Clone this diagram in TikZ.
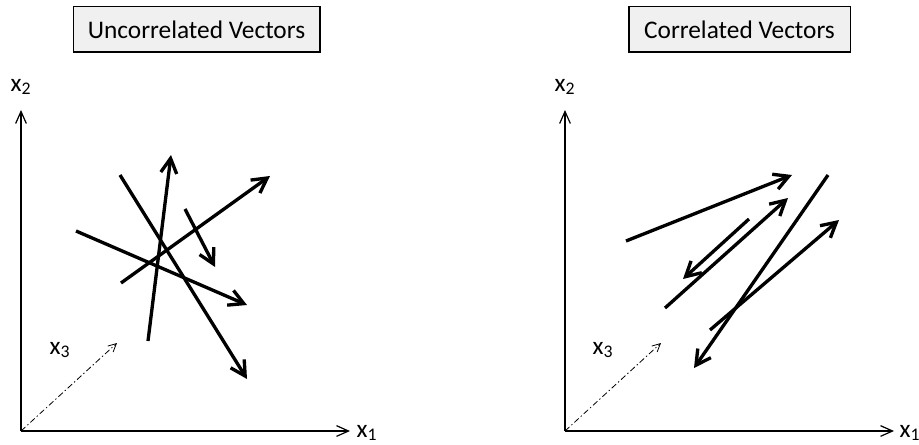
\documentclass[tikz,border=0pt]{standalone}
\usepackage{fontspec}
\setmainfont{Carlito}
\usetikzlibrary{arrows.meta}
\definecolor{titlefill}{HTML}{F0F0F0}
\tikzset{
  font=\fontsize{19}{22}\selectfont,
  titlebox/.style={draw=black, line width=1pt, fill=titlefill, minimum height=34pt, inner xsep=0pt},
  axis/.style={-{Straight Barb[length=9pt,width=8pt]}, line width=0.9pt},
  depth/.style={-{Straight Barb[length=6pt,width=6pt]}, line width=0.6pt, dash pattern=on 4.5pt off 2pt on 1pt off 2pt},
  vec/.style={-{Straight Barb[length=11pt,width=12pt]}, line width=2.5pt},
  axislabel/.style={inner sep=0pt}
}
\begin{document}
\begin{tikzpicture}[x=0.75pt, y=-0.75pt]
  \useasboundingbox (0,0) rectangle (919,445);

  % left panel
  \node[titlebox, minimum width=185pt] (uncorrtitle) at (196.5,29.5) {Uncorrelated Vectors};
  \coordinate (lorigin) at (21,431);
  \coordinate (lxone) at (350,431);
  \coordinate (lxtwo) at (21,110);
  \coordinate (lxthree) at (117,343);
  \draw[axis] (lorigin) -- (lxone);
  \draw[axis] (lorigin) -- (lxtwo);
  \draw[depth] (lorigin) -- (lxthree);
  \node[axislabel] (lxonelabel) at (367,433) {x\textsubscript{1}};
  \node[axislabel] (lxtwolabel) at (21,87) {x\textsubscript{2}};
  \node[axislabel] (lxthreelabel) at (60,350) {x\textsubscript{3}};

  \coordinate (ua1) at (148,341);  \coordinate (ub1) at (171,155);
  \coordinate (ua2) at (120,175);  \coordinate (ub2) at (247,379);
  \coordinate (ua3) at (121,283);  \coordinate (ub3) at (270,176);
  \coordinate (ua4) at (76,231);   \coordinate (ub4) at (247,305);
  \coordinate (ua5) at (185,209);  \coordinate (ub5) at (215,267);
  \foreach \i in {1,...,5}
    \draw[vec] (ua\i) -- (ub\i);

  % right panel
  \node[titlebox, minimum width=166pt] (corrtitle) at (739.5,29.5) {Correlated Vectors};
  \coordinate (rorigin) at (565,431);
  \coordinate (rxone) at (894,431);
  \coordinate (rxtwo) at (565,110);
  \coordinate (rxthree) at (661,343);
  \draw[axis] (rorigin) -- (rxone);
  \draw[axis] (rorigin) -- (rxtwo);
  \draw[depth] (rorigin) -- (rxthree);
  \node[axislabel] (rxonelabel) at (910,433) {x\textsubscript{1}};
  \node[axislabel] (rxtwolabel) at (565,87) {x\textsubscript{2}};
  \node[axislabel] (rxthreelabel) at (603,350) {x\textsubscript{3}};

  \coordinate (ca1) at (626,241);  \coordinate (cb1) at (792,175);
  \coordinate (ca2) at (665,308);  \coordinate (cb2) at (788,198);
  \coordinate (ca3) at (749,219);  \coordinate (cb3) at (683,279);
  \coordinate (ca4) at (828,175);  \coordinate (cb4) at (694,368);
  \coordinate (ca5) at (710,330);  \coordinate (cb5) at (839,220);
  \foreach \i in {1,...,5}
    \draw[vec] (ca\i) -- (cb\i);
\end{tikzpicture}
\end{document}
